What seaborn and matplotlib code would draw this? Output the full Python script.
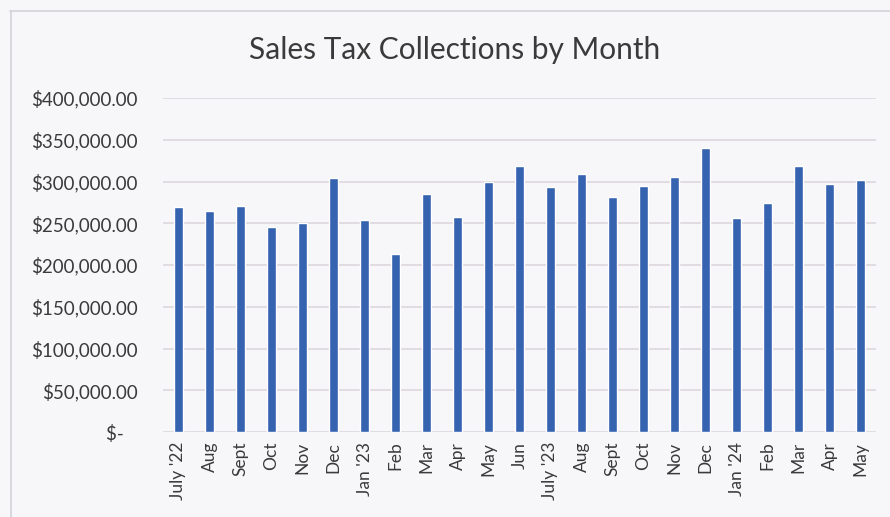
import numpy as np
import pandas as pd
import matplotlib
matplotlib.use("Agg")
import matplotlib.pyplot as plt
from matplotlib.lines import Line2D
import seaborn as sns

months = ["July '22", "Aug", "Sept", "Oct", "Nov", "Dec", "Jan '23", "Feb", "Mar",
          "Apr", "May", "Jun", "July '23", "Aug", "Sept", "Oct", "Nov", "Dec",
          "Jan '24", "Feb", "Mar", "Apr", "May"]
collections = [269000, 265000, 271000, 246000, 250000, 304000, 254000, 213000, 285000,
               257000, 300000, 319000, 294000, 309000, 281000, 295000, 305000, 340000,
               256000, 274000, 319000, 297000, 302000]
y_ticks = [0, 50000, 100000, 150000, 200000, 250000, 300000, 350000, 400000]

bg = "#F7F7F9"
text_color = "#3A3A3A"
grid_color = "#D9D5DB"
bar_color = "#3563AF"

sns.set_theme(style="white")
plt.rcParams["font.family"] = ["Lato", "DejaVu Sans"]

df = pd.DataFrame({"pos": np.arange(len(months)), "amount": collections})

fig = plt.figure(figsize=(8.90, 5.17), dpi=100, facecolor=bg)
ax = fig.add_axes([163 / 890, 1 - 432 / 517, (876 - 163) / 890, (432 - 98) / 517])
ax.set_facecolor(bg)

sns.barplot(data=df, x="pos", y="amount", color=bar_color, width=0.3,
            saturation=1, ax=ax, zorder=3)

ax.set_ylim(0, 400000)
ax.set_yticks(y_ticks)
ax.set_yticklabels(["$-   "] + [f"${v:,.2f}" for v in y_ticks[1:]],
                   fontsize=13.5, color=text_color)
ax.set_xticks(np.arange(len(months)))
ax.set_xticklabels(months, rotation=90, fontsize=12.5, color=text_color)
ax.tick_params(axis="both", length=0)
ax.tick_params(axis="y", pad=18)
ax.tick_params(axis="x", pad=7)
ax.set_xlabel("")
ax.set_ylabel("")
ax.set_xlim(-0.5, len(months) - 0.5)

for v in y_ticks:
    ax.axhline(v, color=grid_color, linewidth=1.1, zorder=1)
for s in ax.spines.values():
    s.set_visible(False)

fig.text(455 / 890, 1 - 50 / 517, "Sales Tax Collections by Month",
         ha="center", va="center", fontsize=21.5, color=text_color)

# chart border
frame = "#D2D2DA"
fig.add_artist(Line2D([10.5 / 890, 10.5 / 890], [0, 1 - 11 / 517], color=frame, lw=1.2,
                      transform=fig.transFigure))
fig.add_artist(Line2D([10 / 890, 1], [1 - 11 / 517, 1 - 11 / 517], color=frame, lw=1.2,
                      transform=fig.transFigure))

fig.savefig("out.png", dpi=100, facecolor=bg)
